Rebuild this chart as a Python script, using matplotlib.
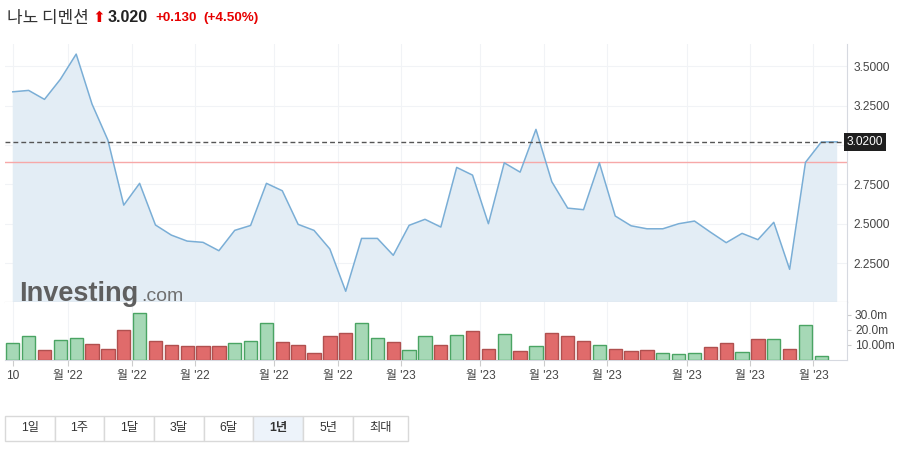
import matplotlib
matplotlib.use("Agg")
import matplotlib.pyplot as plt
from matplotlib.patches import Rectangle
import numpy as np

plt.rcParams['font.family'] = ['Liberation Sans', 'Noto Sans CJK KR', 'DejaVu Sans']

# weekly closes (last point = live quote)
close = [3.337, 3.346, 3.289, 3.416, 3.576, 3.259, 3.031, 2.619, 2.757, 2.493,
         2.429, 2.391, 2.383, 2.330, 2.459, 2.490, 2.757, 2.710, 2.497, 2.459,
         2.341, 2.073, 2.408, 2.408, 2.301, 2.491, 2.529, 2.480, 2.858, 2.809,
         2.501, 2.887, 2.828, 3.099, 2.767, 2.600, 2.590, 2.887, 2.550, 2.488,
         2.469, 2.469, 2.501, 2.518, 2.448, 2.381, 2.440, 2.400, 2.510, 2.212,
         2.890, 3.019, 3.020]
# weekly volume, millions
volume = [11.1, 15.8, 6.5, 13.1, 14.5, 10.5, 7.1, 19.8, 31.1, 12.5,
          10.0, 9.1, 9.1, 9.1, 11.1, 12.5, 24.4, 11.8, 9.8, 4.5,
          15.8, 17.8, 24.4, 14.5, 11.8, 6.5, 15.8, 9.8, 16.4, 19.1,
          7.1, 17.1, 5.8, 9.1, 17.8, 15.8, 12.5, 9.8, 7.1, 5.8,
          6.5, 4.5, 3.8, 4.5, 8.5, 11.1, 5.1, 13.8, 13.8, 7.1,
          23.1, 2.5]
prev_close = 2.89
last = 3.02

tick_pos = [0, 3.5, 7.5, 11.5, 16.5, 20.5, 24.5, 29.5, 33.5, 37.5, 42.5, 46.5, 50.5]
tick_lab = ["10"] + ["월 '22"] * 5 + ["월 '23"] * 7
price_ticks = [2.25, 2.5, 2.75, 3.0, 3.25, 3.5]
price_labels = ["2.2500", "2.5000", "2.7500", "", "3.2500", "3.5000"]
vol_ticks = [10, 20, 30]
vol_labels = ["10.00m", "20.0m", "30.0m"]
periods = ["1일", "1주", "1달", "3달", "6달", "1년", "5년", "최대"]
active = "1년"

W, H = 913, 449
fig = plt.figure(figsize=(W / 100, H / 100), dpi=100)
fig.patch.set_facecolor('white')

def fx(px):
    return px / W

def fy(py):
    return 1 - py / H

x = np.arange(len(close))
xlim = (-0.49, 52.6)
grid_c = '#f1f3f6'

# price panel
ax = fig.add_axes([fx(5), fy(302), fx(846.7) - fx(5), fy(44) - fy(302)])
ax.fill_between(x, close, 0, color='#e3edf5', lw=0, zorder=1)
ax.plot(x, close, color='#7aaed6', lw=1.1, zorder=3)
ax.axhline(prev_close, color='#f7a8a8', lw=1.0, zorder=2)
ax.axhline(last, color='#555555', lw=1.0, dashes=(3.5, 2.2), zorder=4)
ax.set_xlim(*xlim)
ax.set_ylim(2.005, 3.64)
ax.set_yticks(price_ticks)
ax.set_yticklabels(price_labels)
ax.set_xticks(tick_pos)
ax.tick_params(axis='x', length=0, labelbottom=False)
ax.yaxis.tick_right()
ax.tick_params(axis='y', length=0, pad=5, labelsize=8.6, labelcolor='#444444')
ax.grid(True, color=grid_c, lw=0.8, zorder=0)
ax.set_axisbelow(True)
for s in ['top', 'left']:
    ax.spines[s].set_visible(False)
ax.spines['right'].set_color('#d6d9e0')
ax.spines['bottom'].set_color('#c4c4c4')
ax.text(1.0, last, "3.0200", transform=ax.get_yaxis_transform(), ha='left', va='center',
        fontsize=8.6, color='white', zorder=6,
        bbox=dict(boxstyle='square,pad=0.25', fc='#1f1f1f', ec='none'))

# volume panel
axv = fig.add_axes([fx(5), fy(360), fx(846.7) - fx(5), fy(302) - fy(360)])
vx = np.arange(len(volume))
up = [True] + [close[i] >= close[i - 1] for i in range(1, len(volume))]
fc = ['#a6d8b6' if u else '#e06b6b' for u in up]
ec = ['#4aa463' if u else '#b0504f' for u in up]
axv.bar(vx, volume, width=0.84, color=fc, edgecolor=ec, linewidth=1.0, zorder=3)
axv.set_xlim(*xlim)
axv.set_ylim(0, 38.5)
axv.set_yticks(vol_ticks)
axv.set_yticklabels(vol_labels)
axv.yaxis.tick_right()
axv.tick_params(axis='y', length=3, color='#cccccc', pad=3, labelsize=8.6, labelcolor='#444444')
axv.set_xticks(tick_pos)
axv.set_xticklabels(tick_lab)
axv.tick_params(axis='x', length=4, color='#cccccc', pad=3, labelsize=8.6, labelcolor='#444444')
axv.grid(True, axis='x', color=grid_c, lw=0.8, zorder=0)
axv.set_axisbelow(True)
for s in ['top', 'left']:
    axv.spines[s].set_visible(False)
axv.spines['right'].set_color('#d6d9e0')
axv.spines['bottom'].set_color('#d6d9e0')

# watermark
fig.text(fx(19), fy(301), "Investing", fontsize=19.5, fontweight='bold', color='#5f5f5f',
         ha='left', va='baseline', zorder=10)
fig.text(fx(141), fy(301), ".com", fontsize=14, color='#707070',
         ha='left', va='baseline', zorder=10)

# header
fig.text(fx(7), fy(18), "나노 디멘션", fontsize=12.2, color='#333333',
         family=['Noto Sans CJK KR', 'DejaVu Sans'], ha='left', va='center')
fig.text(fx(92), fy(18), "⬆", fontsize=11, color='#e60000', family='DejaVu Sans',
         ha='left', va='center')
fig.text(fx(108), fy(18), "3.020", fontsize=11.5, fontweight='bold', color='#222222',
         ha='left', va='center')
fig.text(fx(155), fy(18), "+0.130", fontsize=9.7, fontweight='bold', color='#e60000',
         ha='left', va='center')
fig.text(fx(203), fy(18), "(+4.50%)", fontsize=9.7, fontweight='bold', color='#e60000',
         ha='left', va='center')

# period buttons
edges = [5, 55, 104, 154, 204, 253, 303, 353, 408]
top, bot = 416, 441
for i, p in enumerate(periods):
    x0, x1 = edges[i], edges[i + 1]
    face = '#edf3fa' if p == active else 'white'
    fig.add_artist(Rectangle((fx(x0), fy(bot)), fx(x1) - fx(x0), fy(top) - fy(bot),
                             transform=fig.transFigure, fc=face, ec='#d9d9d9', lw=1.0))
    fig.text(fx((x0 + x1) / 2), fy((top + bot) / 2), p, fontsize=8.8, color='#333333',
             fontweight='bold' if p == active else 'normal',
             ha='center', va='center')

fig.savefig("out.png", dpi=100)
